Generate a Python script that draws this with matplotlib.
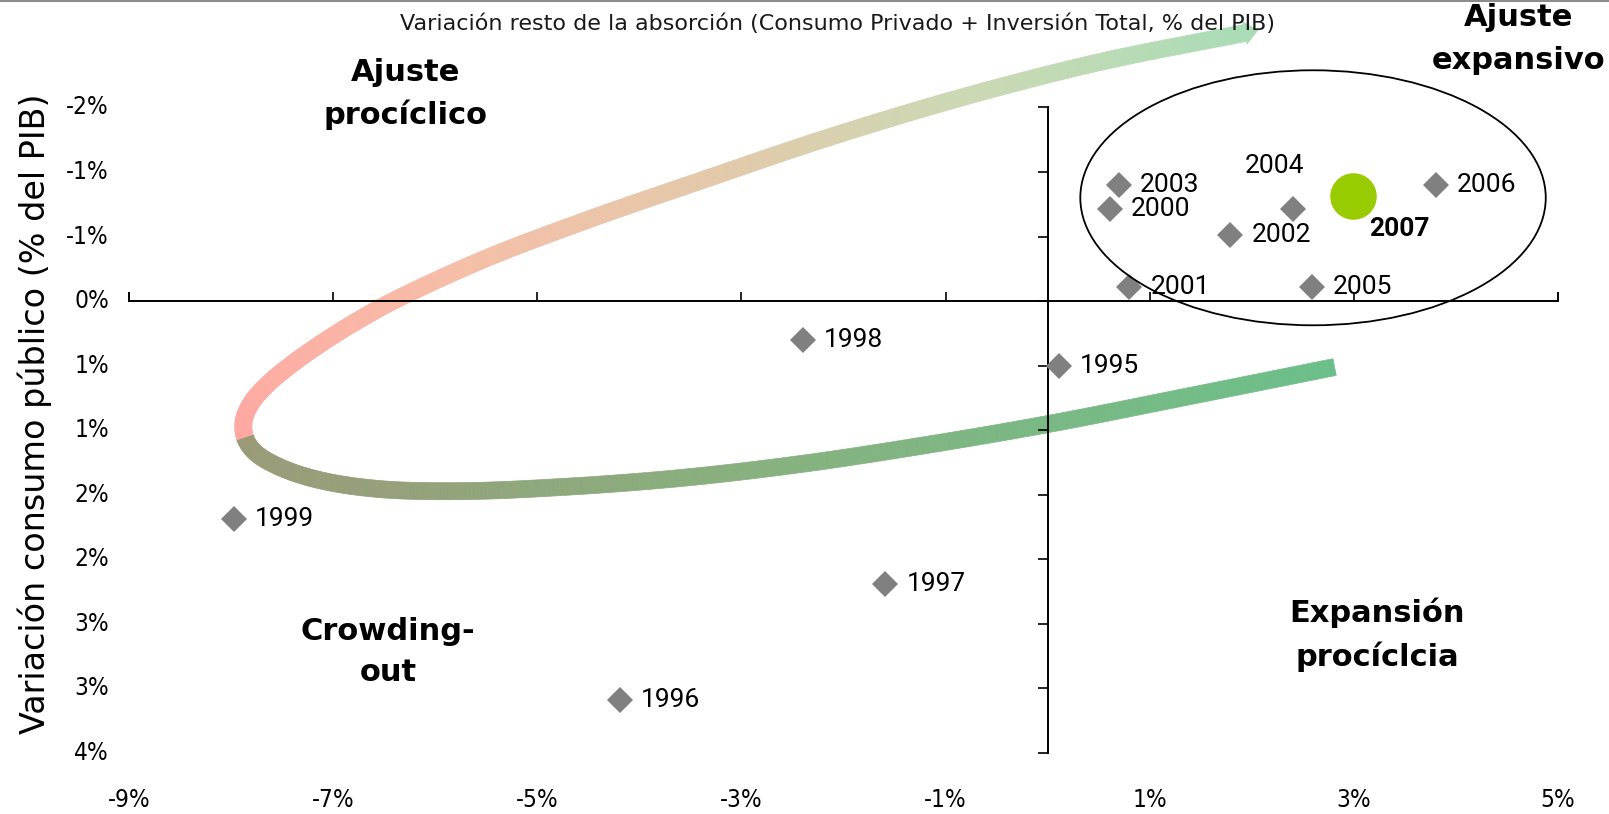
import numpy as np
import matplotlib
matplotlib.use("Agg")
from matplotlib import pyplot as plt, font_manager
from matplotlib.collections import PolyCollection
from matplotlib.patches import Ellipse, Polygon
from matplotlib.lines import Line2D
from matplotlib.transforms import blended_transform_factory
from matplotlib.colors import LinearSegmentedColormap

# data
years = ['1995', '1996', '1997', '1998', '1999', '2000', '2001',
         '2002', '2003', '2004', '2005', '2006']
absorcion = [0.11, -4.19, -1.59, -2.40, -7.97, 0.61, 0.80,
             1.79, 0.70, 2.40, 2.59, 3.80]
consumo_pub = [0.50, 3.09, 2.19, 0.30, 1.69, -0.71, -0.11,
               -0.51, -0.90, -0.71, -0.11, -0.90]
year_hl = '2007'
absorcion_hl = 2.99
consumo_pub_hl = -0.81

x_ticks = [-9, -7, -5, -3, -1, 1, 3, 5]
x_tick_labels = ['-9%', '-7%', '-5%', '-3%', '-1%', '1%', '3%', '5%']
y_ticks = [-1.5, -1.0, -0.5, 0.0, 0.5, 1.0, 1.5, 2.0, 2.5, 3.0, 3.5]
y_tick_labels = ['-2%', '-1%', '-1%', '0%', '1%', '1%', '2%', '2%', '3%', '3%', '4%']

title = 'Variación resto de la absorción (Consumo Privado + Inversión Total, % del PIB)'
ylabel = 'Variación consumo público (% del PIB)'

# guide arrow drawn over the chart (data coords): lower branch, then upper branch
arrow_low = [(2.811, 0.511), (1.391, 0.736), (0.0, 0.953), (-1.254, 1.123),
             (-2.429, 1.263), (-3.604, 1.371), (-4.780, 1.441), (-5.759, 1.472),
             (-6.543, 1.456), (-7.130, 1.387), (-7.522, 1.286), (-7.767, 1.170),
             (-7.865, 1.053)]
arrow_up = [(-7.875, 0.922), (-7.796, 0.782), (-7.640, 0.643), (-7.404, 0.488),
            (-7.111, 0.325), (-6.768, 0.155), (-6.376, -0.015), (-5.495, -0.333),
            (-4.486, -0.635), (-3.408, -0.930), (-2.135, -1.270), (-0.793, -1.588),
            (0.509, -1.851), (1.929, -2.076)]

files = font_manager.fontManager.ttflist
names = {f.name for f in files}
cond = [f.fname for f in files if 'DejaVuSansCondensed.ttf' in f.fname]
if 'Liberation Sans Narrow' in names:
    tick_fp = font_manager.FontProperties(family='Liberation Sans Narrow', size=18)
elif cond:
    tick_fp = font_manager.FontProperties(fname=cond[0], size=17.5)
else:
    tick_fp = font_manager.FontProperties(family='Roboto', size=18)
label_font = 'Roboto' if 'Roboto' in names else 'DejaVu Sans'

W, H = 1609, 814
fig = plt.figure(figsize=(W / 100, H / 100), dpi=100)
ax = fig.add_axes([129 / W, 1 - 753 / H, (1558 - 129) / W, (753 - 107.4) / H])
ax.set_xlim(-9, 5)
ax.set_ylim(3.5, -1.5)

for s in ['top', 'right']:
    ax.spines[s].set_visible(False)
ax.spines['left'].set_position(('data', 0))
ax.spines['bottom'].set_position(('data', 0))
for s in ['left', 'bottom']:
    ax.spines[s].set_linewidth(1.4)
ax.set_xticks(x_ticks + [-9, 5])
ax.set_yticks(y_ticks)
ax.tick_params(axis='x', direction='in', length=6.5, width=1.2, labelbottom=False)
ax.tick_params(axis='y', direction='out', length=7, width=1.2, labelleft=False)
ax.patch.set_visible(False)

# tick labels sit at the frame edges, not on the crossing axes
tx = blended_transform_factory(ax.transData, ax.transAxes)
for v, lab in zip(x_ticks, x_tick_labels):
    ax.text(v, -0.073, lab, transform=tx, ha='center', va='center',
            fontproperties=tick_fp, clip_on=False)
ty = blended_transform_factory(ax.transAxes, ax.transData)
for v, lab in zip(y_ticks, y_tick_labels):
    ax.text(-0.014, v, lab, transform=ty, ha='right', va='center',
            fontproperties=tick_fp, clip_on=False)


def catmull(P, n=24, alpha=0.5):
    # centripetal catmull-rom through P
    P = np.asarray(P, float)
    P = np.vstack([2 * P[0] - P[1], P, 2 * P[-1] - P[-2]])
    out = []
    for i in range(len(P) - 3):
        p0, p1, p2, p3 = P[i:i + 4]
        t0 = 0.0
        t1 = t0 + np.linalg.norm(p1 - p0) ** alpha
        t2 = t1 + np.linalg.norm(p2 - p1) ** alpha
        t3 = t2 + np.linalg.norm(p3 - p2) ** alpha
        t = np.linspace(t1, t2, n, endpoint=False)[:, None]
        a1 = (t1 - t) / (t1 - t0) * p0 + (t - t0) / (t1 - t0) * p1
        a2 = (t2 - t) / (t2 - t1) * p1 + (t - t1) / (t2 - t1) * p2
        a3 = (t3 - t) / (t3 - t2) * p2 + (t - t2) / (t3 - t2) * p3
        b1 = (t2 - t) / (t2 - t0) * a1 + (t - t0) / (t2 - t0) * a2
        b2 = (t3 - t) / (t3 - t1) * a2 + (t - t1) / (t3 - t1) * a3
        out.append((t2 - t) / (t2 - t1) * b1 + (t - t1) / (t2 - t1) * b2)
    out.append(P[-2][None])
    return np.vstack(out)


n_seg = 24
disp = ax.transData.transform(arrow_low + arrow_up)
curve = catmull(disp, n_seg)
jidx = (len(arrow_low) - 1) * n_seg
d = np.gradient(curve, axis=0)
tang = d / np.linalg.norm(d, axis=1)[:, None]
norm = np.column_stack([-tang[:, 1], tang[:, 0]])
hw = 8.5
left = curve + hw * norm
right = curve - hw * norm

low_cmap = LinearSegmentedColormap.from_list('low', ['#6cbf8a', '#86b27f', '#9a9a78'])
up_cmap = LinearSegmentedColormap.from_list('up', ['#ffa8a3', '#f6bea8', '#e3c9aa',
                                                   '#cbd9b4', '#aadcb6'])
seglen = np.linalg.norm(np.diff(curve, axis=0), axis=1)
cum = np.concatenate([[0], np.cumsum(seglen)])
inv = ax.transData.inverted()
polys, cols = [], []
for i in range(len(curve) - 1):
    q = np.array([left[i], left[i + 1], right[i + 1], right[i]])
    polys.append(inv.transform(q))
    mid = 0.5 * (cum[i] + cum[i + 1])
    if i < jidx:
        cols.append(low_cmap(mid / cum[jidx]))
    else:
        cols.append(up_cmap((mid - cum[jidx]) / (cum[-1] - cum[jidx])))
band = PolyCollection(polys, facecolors=cols, edgecolors=cols, linewidths=0.5,
                      zorder=1, clip_on=False)
ax.add_collection(band)
pe, te, ne = curve[-1], tang[-1], norm[-1]
head = np.array([pe + 12 * ne, pe + 14 * te, pe - 12 * ne])
ax.add_patch(Polygon(inv.transform(head), closed=True, facecolor='#aadcb6',
                     edgecolor='none', zorder=1, clip_on=False))

# points
ax.plot(absorcion, consumo_pub, 'D', color='#808080', ms=13, mew=0,
        zorder=3, clip_on=False)
ax.plot([absorcion_hl], [consumo_pub_hl], 'o', color='#99cc00', ms=33.5, mew=0,
        zorder=3, clip_on=False)

special = {'2004': (-18, 43, 'center')}
for yr, xv, yv in zip(years, absorcion, consumo_pub):
    dx, dy, ha = special.get(yr, (21, 0, 'left'))
    ax.annotate(yr, (xv, yv), xytext=(dx, dy), textcoords='offset pixels',
                ha=ha, va='center', fontsize=19, family=label_font, zorder=5)
ax.annotate(year_hl, (absorcion_hl, consumo_pub_hl), xytext=(47, -33),
            textcoords='offset pixels', ha='center', va='center', fontsize=19,
            family=label_font, fontweight='bold', zorder=5)

ax.add_patch(Ellipse((2.60, -0.80), 4.56, 1.975, fill=False, edgecolor='black',
                     lw=1.3, zorder=4, clip_on=False))

# texts
fig.text(838 / W, 1 - 24 / H, title, ha='center', va='center', fontsize=16,
         color='#1a1a1a', family='DejaVu Sans')
fig.text(35 / W, 1 - 414 / H, ylabel, rotation=90, ha='center', va='center',
         fontsize=24, family='DejaVu Sans')
region_kw = dict(ha='center', va='center', fontsize=22, fontweight='bold',
                 family='DejaVu Sans', linespacing=1.55)
fig.text(406 / W, 1 - 94 / H, 'Ajuste\nprocíclico', **region_kw)
fig.text(388 / W, 1 - 652 / H, 'Crowding-\nout', **region_kw)
fig.text(1377 / W, 1 - 635 / H, 'Expansión\nprocíclcia', **region_kw)
fig.text(1519 / W, 1 - 39 / H, 'Ajuste\nexpansivo', **dict(region_kw, linespacing=1.65))

fig.add_artist(Line2D([0, 1], [1 - 1 / H, 1 - 1 / H], color='#8c8c8c', lw=1.5,
                      transform=fig.transFigure))

fig.savefig('out.png', dpi=100)
plt.close()
